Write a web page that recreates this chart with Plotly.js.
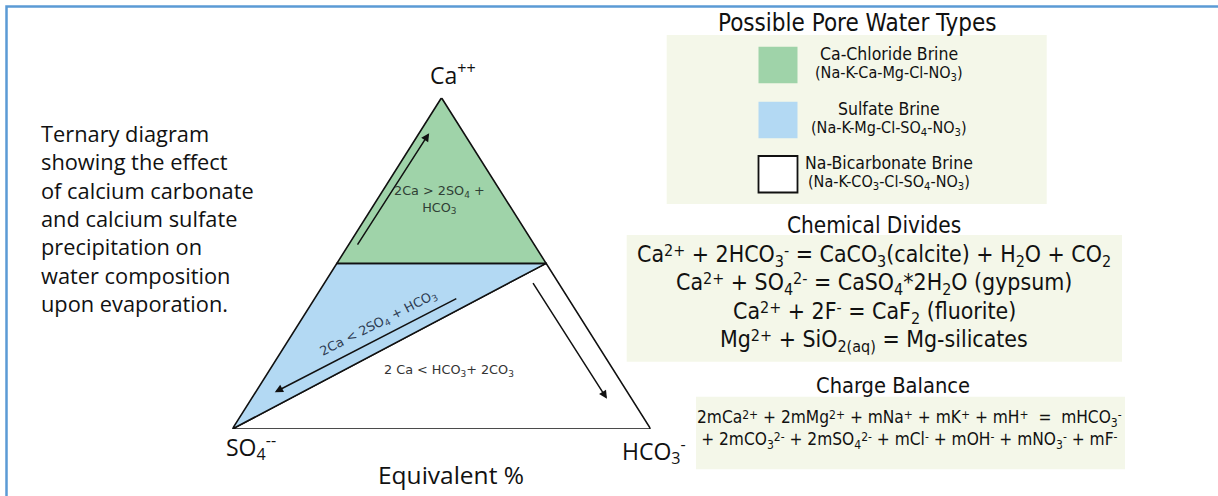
<!DOCTYPE html>
<html>
<head>
<meta charset="utf-8">
<script src="https://cdn.plot.ly/plotly-3.0.1.min.js"></script>
<style>html,body{margin:0;padding:0;background:#fff;}#chart{width:1218px;height:496px;}</style>
</head>
<body>
<div id="chart"></div>
<script>
// ---- data (ternary compositions in equivalent %) ----
const vertexLabels = ['Ca<sup>++</sup>', 'SO<sub>4</sub><sup>--</sup>', 'HCO<sub>3</sub><sup>-</sup>'];
const regionNames = ['Na-Bicarbonate Brine', 'Sulfate Brine', 'Ca-Chloride Brine'];
const regionFormulas = ['(Na-K-CO<sub>3</sub>-Cl-SO<sub>4</sub>-NO<sub>3</sub>)', '(Na-K-Mg-Cl-SO<sub>4</sub>-NO<sub>3</sub>)', '(Na-K-Ca-Mg-Cl-NO<sub>3</sub>)'];
const regionCa   = [[0, 50, 0], [0, 50, 50], [100, 50, 50]];
const regionHCO3 = [[0, 50, 100], [0, 0, 50], [0, 0, 50]];
const regionColors = ['#ffffff', '#b3d9f3', '#9fd3a9'];
const regionLabels = ['2 Ca &lt; HCO<sub>3</sub>+ 2CO<sub>3</sub>', '2Ca &lt; 2SO<sub>4</sub> + HCO<sub>3</sub>', '2Ca &gt; 2SO<sub>4</sub> +<br>HCO<sub>3</sub>'];
const labelCa   = [17.8, 31.9, 69.4];
const labelHCO3 = [42.9, 19.0, 14.9];
const arrowTailCa   = [55.2, 39.6, 44.5];
const arrowTailHCO3 = [2.1, 34.1, 49.4];
const arrowHeadCa   = [89.3, 11.1, 9.1];
const arrowHeadHCO3 = [2.4, 4.6, 85.0];
const introLines = ['Ternary diagram', 'showing the effect', 'of calcium carbonate', 'and calcium sulfate', 'precipitation on', 'water composition', 'upon evaporation.'];
const divideEquations = [
  'Ca<sup>2+</sup> + 2HCO<sub>3</sub><sup>-</sup> = CaCO<sub>3</sub>(calcite) + H<sub>2</sub>O + CO<sub>2</sub>',
  'Ca<sup>2+</sup> + SO<sub>4</sub><sup>2-</sup> = CaSO<sub>4</sub>*2H<sub>2</sub>O (gypsum)',
  'Ca<sup>2+</sup> + 2F<sup>-</sup> = CaF<sub>2</sub> (fluorite)',
  'Mg<sup>2+</sup> + SiO<sub>2(aq)</sub> = Mg-silicates'
];
const balanceLines = [
  '2mCa<sup>2+</sup> + 2mMg<sup>2+</sup> + mNa<sup>+</sup> + mK<sup>+</sup> + mH<sup>+</sup> &nbsp;= &nbsp;mHCO<sub>3</sub><sup>-</sup>',
  '+ 2mCO<sub>3</sub><sup>2-</sup> + 2mSO<sub>4</sub><sup>2-</sup> + mCl<sup>-</sup> + mOH<sup>-</sup> + mNO<sub>3</sub><sup>-</sup> + mF<sup>-</sup>'
];

// low-set superscripts like the reference
const lowSup = t => t.replace(/<sup>(.*?)<\/sup>/g, '<span style="font-size:70%;baseline-shift:0.35em">$1</span>');

// ternary -> cartesian (x: 0..100 across base, y: Ca 0..100)
const tx = (ca, hco3) => hco3 + ca / 2;
const ty = (ca) => ca;

const W = 1218, H = 496;
const px = v => v / W;
const py = v => 1 - v / H;
const FONT = '"Open Sans", Lato, sans-serif';
const NARROW = '"DejaVu Sans Condensed", "DejaVu Sans", sans-serif';
const SMALL = '"DejaVu Sans", Verdana, sans-serif';

const traces = regionNames.map((name, i) => {
  const xs = regionCa[i].map((c, k) => tx(c, regionHCO3[i][k]));
  const ys = regionCa[i].map(c => ty(c));
  xs.push(xs[0]); ys.push(ys[0]);
  return {
    type: 'scatter', mode: 'lines', name: name, x: xs, y: ys,
    fill: 'toself', fillcolor: regionColors[i],
    line: {color: '#111', width: 1.6}, hoverinfo: 'skip', showlegend: false
  };
});

const annotations = [];
const shapes = [];

// frame
shapes.push({type: 'path', xref: 'paper', yref: 'paper',
  path: `M ${px(6.5)} ${py(496)} L ${px(6.5)} ${py(6.5)} L ${px(1218)} ${py(6.5)}`,
  line: {color: '#5b9bd5', width: 2.5}});

// arrows
for (let i = 0; i < arrowTailCa.length; i++) {
  annotations.push({
    xref: 'x', yref: 'y', axref: 'x', ayref: 'y',
    x: tx(arrowHeadCa[i], arrowHeadHCO3[i]), y: ty(arrowHeadCa[i]),
    ax: tx(arrowTailCa[i], arrowTailHCO3[i]), ay: ty(arrowTailCa[i]),
    text: '', showarrow: true, arrowhead: 2, arrowsize: 1.1, arrowwidth: 1.5, arrowcolor: '#111'
  });
}
// region labels
const labelAngles = [0, -27, 0];
const labelColors = ['#333', '#2d3b52', '#2f3f35'];
for (let i = 0; i < regionLabels.length; i++) {
  annotations.push({
    xref: 'x', yref: 'y', x: tx(labelCa[i], labelHCO3[i]), y: ty(labelCa[i]),
    text: regionLabels[i], showarrow: false, textangle: labelAngles[i],
    font: {family: SMALL, size: 12.8, color: labelColors[i]}, xanchor: 'center', yanchor: 'middle'
  });
}
// vertex labels
const vertexCa = [100, 0, 0], vertexHCO3 = [0, 0, 100];
const vShiftX = [11, 18.5, 3], vShiftY = [24, -18, -22];
for (let i = 0; i < 3; i++) {
  annotations.push({
    xref: 'x', yref: 'y', x: tx(vertexCa[i], vertexHCO3[i]), y: ty(vertexCa[i]),
    xshift: vShiftX[i], yshift: vShiftY[i],
    text: vertexLabels[i], showarrow: false,
    font: {family: FONT, size: 23, color: '#111'}, xanchor: 'center', yanchor: 'middle'
  });
}
annotations.push({xref: 'paper', yref: 'paper', x: px(451), y: py(474), text: 'Equivalent %', showarrow: false,
  font: {family: FONT, size: 24.5, color: '#111'}, xanchor: 'center', yanchor: 'middle'});

// intro text (one block, left aligned)
annotations.push({xref: 'paper', yref: 'paper', x: px(39), y: py(218.5), text: introLines.join('<br>'), showarrow: false,
  align: 'left', font: {family: FONT, size: 21.8, color: '#111'}, xanchor: 'left', yanchor: 'middle'});

// pore water box
shapes.push({type: 'rect', xref: 'paper', yref: 'paper', x0: px(666.7), x1: px(1046.7), y0: py(204), y1: py(35),
  fillcolor: '#f4f7e9', line: {width: 0}, layer: 'below'});
annotations.push({xref: 'paper', yref: 'paper', x: px(857.5), y: py(23), text: 'Possible Pore Water Types', showarrow: false,
  font: {family: NARROW, size: 24, color: '#111'}, xanchor: 'center', yanchor: 'middle'});
const swatchTop = [156, 101.7, 46.7];
for (let i = 0; i < regionNames.length; i++) {
  const top = swatchTop[i];
  shapes.push({type: 'rect', xref: 'paper', yref: 'paper', x0: px(758.5), x1: px(797.5), y0: py(top + 36.5), y1: py(top),
    fillcolor: regionColors[i], line: {width: i === 0 ? 1.8 : 0, color: '#111'}});
  annotations.push({xref: 'paper', yref: 'paper', x: px(889), y: py(top + 7), text: regionNames[i], showarrow: false,
    font: {family: NARROW, size: 17.5, color: '#111'}, xanchor: 'center', yanchor: 'middle'});
  annotations.push({xref: 'paper', yref: 'paper', x: px(889), y: py(top + 27), text: regionFormulas[i], showarrow: false,
    font: {family: NARROW, size: 16, color: '#111'}, xanchor: 'center', yanchor: 'middle'});
}

// chemical divides
shapes.push({type: 'rect', xref: 'paper', yref: 'paper', x0: px(626.7), x1: px(1122), y0: py(361.7), y1: py(235),
  fillcolor: '#f4f7e9', line: {width: 0}, layer: 'below'});
annotations.push({xref: 'paper', yref: 'paper', x: px(874), y: py(225), text: 'Chemical Divides', showarrow: false,
  font: {family: NARROW, size: 22.4, color: '#111'}, xanchor: 'center', yanchor: 'middle'});
divideEquations.forEach((t, i) => {
  annotations.push({xref: 'paper', yref: 'paper', x: px(874), y: py(256 + 28.4 * i), text: lowSup(t), showarrow: false,
    font: {family: NARROW, size: 22.9, color: '#111'}, xanchor: 'center', yanchor: 'middle'});
});

// charge balance
shapes.push({type: 'rect', xref: 'paper', yref: 'paper', x0: px(696), x1: px(1125), y0: py(469.3), y1: py(396.7),
  fillcolor: '#f4f7e9', line: {width: 0}, layer: 'below'});
annotations.push({xref: 'paper', yref: 'paper', x: px(892.5), y: py(385), text: 'Charge Balance', showarrow: false,
  font: {family: NARROW, size: 21.7, color: '#111'}, xanchor: 'center', yanchor: 'middle'});
annotations.push({xref: 'paper', yref: 'paper', x: px(909), y: py(429), text: balanceLines.map(lowSup).join('<br>'), showarrow: false,
  font: {family: NARROW, size: 17.2, color: '#111'}, xanchor: 'center', yanchor: 'middle'});

const layout = {
  width: W, height: H, margin: {l: 0, r: 0, t: 0, b: 0},
  paper_bgcolor: '#fff', plot_bgcolor: 'rgba(0,0,0,0)', showlegend: false,
  xaxis: {visible: false, range: [0, 100], domain: [px(232.3), px(650.7)], fixedrange: true},
  yaxis: {visible: false, range: [0, 100], domain: [py(429), py(97.7)], fixedrange: true},
  shapes: shapes, annotations: annotations
};
Plotly.newPlot('chart', traces, layout, {displayModeBar: false, staticPlot: true});
</script>
</body>
</html>
